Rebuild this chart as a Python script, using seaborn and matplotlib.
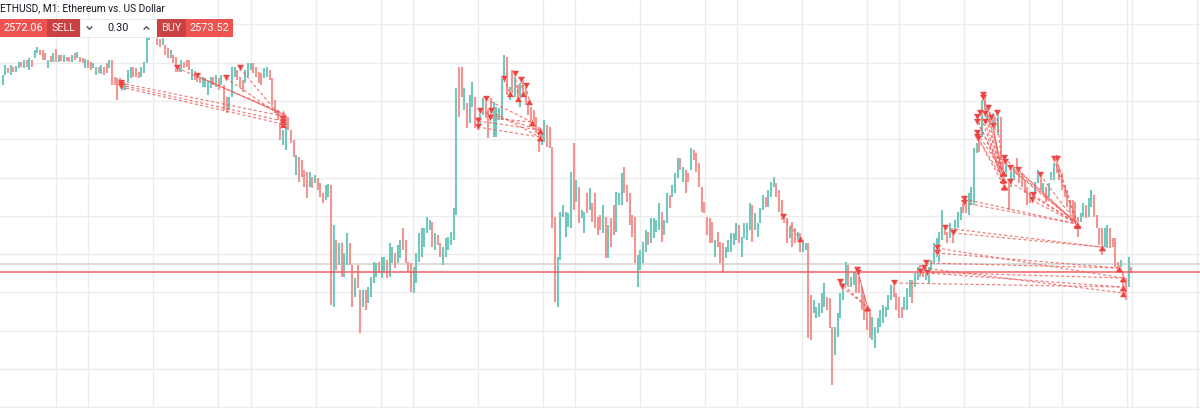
import numpy as np
import pandas as pd
import matplotlib
matplotlib.use("Agg")
import matplotlib.pyplot as plt
import seaborn as sns
from matplotlib.patches import Rectangle

# ---------------- data ----------------
# bar highs / lows (USD) and direction (u = close above open, d = close below open)
bar_high = [
    # A
    2592.5, 2593.5, 2593.2, 2593.5, 2593.3, 2593.4, 2593.8, 2593.8, 2594.0, 2594.0, 2594.2, 2594.0,
    2595.0, 2595.3, 2595.0, 2595.0, 2594.7,
    # B
    2594.0, 2594.4, 2594.7, 2595.1, 2594.5, 2594.5, 2594.5, 2594.3, 2594.3, 2594.5, 2594.7, 2594.8,
    2594.3, 2594.2, 2594.1, 2594.0, 2593.8, 2593.7, 2593.3, 2593.3, 2593.5, 2593.3, 2593.7, 2594.0,
    2594.0, 2592.3, 2592.2, 2592.2, 2591.5, 2591.7, 2593.0, 2593.3, 2593.3, 2593.2, 2592.8, 2593.3,
    2593.8, 2596.5, 2597.0, 2597.5, 2597.3,
    # C
    2596.5, 2596.1, 2596.2, 2595.5, 2595.2, 2595.0, 2594.5, 2594.3, 2593.5, 2594.0, 2593.8, 2594.0,
    2594.0, 2593.1, 2592.9, 2592.7, 2592.3, 2592.3, 2592.2, 2591.8, 2592.3, 2592.3, 2592.5, 2592.2,
    2592.5, 2591.5, 2590.3, 2590.3, 2593.3, 2593.3, 2593.0, 2592.3, 2592.0, 2593.0, 2593.7, 2593.7,
    2593.7, 2593.3, 2592.8, 2592.7, 2593.2, 2593.3, 2593.0, 2592.2, 2590.0, 2589.0, 2587.7, 2587.0,
    2587.7, 2588.3, 2587.0, 2586.0, 2584.5, 2584.3, 2584.0, 2583.0, 2582.8, 2582.8, 2582.3, 2582.5,
    2582.2, 2581.7, 2580.7, 2581.5, 2581.6,
    # D
    2581.5, 2577.5, 2576.0, 2575.7, 2575.7, 2574.7, 2576.7, 2575.7, 2573.5, 2572.2, 2573.5, 2571.0,
    2571.0, 2571.0, 2571.3, 2572.3, 2573.8, 2573.7, 2573.8, 2574.3, 2574.3, 2574.0, 2575.7, 2575.3,
    2574.7, 2575.5,
    # E
    2576.0, 2577.2, 2576.0, 2573.8, 2573.7, 2573.3, 2574.7, 2576.7, 2577.2, 2577.2, 2578.3, 2578.0,
    2577.8, 2576.7, 2576.5, 2575.7, 2575.3, 2576.2, 2576.3, 2576.8, 2579.2, 2591.2,
    # F
    2593.3, 2593.3, 2591.2, 2589.7, 2590.5, 2591.8, 2590.3, 2588.3, 2589.2, 2590.2, 2590.0, 2589.0,
    2590.2, 2589.8, 2589.3, 2589.2, 2592.2, 2594.5, 2594.3, 2591.3, 2593.0, 2592.3, 2591.5, 2591.7,
    2592.0, 2591.5, 2589.8, 2589.3, 2589.0, 2588.3, 2587.3, 2587.0, 2588.0, 2587.5, 2587.3, 2585.3,
    2578.3,
    # G
    2574.3, 2578.8, 2579.5, 2578.8, 2578.7, 2582.8, 2585.7, 2582.0, 2581.3, 2579.0, 2578.8, 2580.7,
    2581.2, 2579.7, 2580.7, 2578.3, 2578.5, 2579.5, 2578.3, 2577.5, 2578.2, 2579.5, 2580.8, 2580.7,
    2582.7, 2583.3, 2581.5, 2580.7, 2578.5, 2578.3, 2574.5, 2575.0, 2575.8, 2577.0, 2576.8, 2578.2,
    2578.2, 2578.0, 2579.7, 2578.8, 2578.0, 2580.7, 2580.5, 2581.5, 2582.7, 2584.2, 2584.2, 2583.3,
    2583.0, 2582.7, 2585.2, 2585.0, 2584.7, 2583.7, 2581.3, 2579.8, 2578.3, 2578.2, 2577.8, 2576.0,
    2576.8, 2575.8, 2575.7, 2575.3, 2576.0, 2576.7, 2576.7, 2577.7, 2577.5, 2576.3, 2577.7, 2577.7,
    2579.7, 2579.5, 2578.7, 2577.7, 2579.2, 2580.5, 2580.3, 2581.0, 2581.8, 2582.3, 2581.7, 2581.0,
    2580.0, 2578.5, 2578.2, 2577.3, 2577.8, 2577.2, 2576.8, 2576.7,
    # H
    2576.0, 2575.7, 2575.7, 2570.5, 2570.0, 2569.3, 2569.7, 2570.7, 2571.7, 2570.3, 2570.2, 2567.3,
    2567.3, 2568.7, 2570.7, 2571.7, 2573.8, 2573.5, 2572.3, 2572.8, 2572.8, 2572.3, 2571.3, 2570.5,
    2569.0, 2568.8, 2568.3, 2567.3, 2568.2, 2569.0, 2569.5, 2569.3, 2570.5, 2571.5, 2571.8, 2570.7,
    2570.3, 2569.3, 2570.3, 2571.2, 2572.0, 2572.0, 2572.7, 2573.3, 2573.5, 2573.3, 2573.8, 2573.3,
    2574.0, 2575.7, 2576.2, 2576.8, 2579.0, 2577.3, 2576.8, 2577.7, 2576.8, 2578.0, 2578.8, 2579.3,
    2579.7, 2579.8, 2580.7, 2581.3, 2585.2, 2585.7, 2586.5, 2590.0, 2590.5, 2589.3, 2588.8, 2588.7,
    2588.3, 2588.7, 2588.3, 2584.0, 2583.7, 2582.0, 2583.0, 2583.3, 2584.2, 2583.0, 2582.7, 2582.0,
    2581.3, 2580.8, 2580.7, 2581.8, 2583.0, 2582.3, 2581.7, 2581.3, 2581.7, 2582.8, 2583.7, 2584.5,
    2583.3, 2582.7, 2581.5, 2581.0, 2580.0, 2580.0, 2579.8, 2578.3, 2578.7, 2579.7, 2579.5, 2580.2,
    2581.0, 2580.5, 2578.5, 2577.2, 2577.2, 2577.2, 2577.5, 2577.2, 2576.2, 2576.2, 2573.8, 2574.0,
    2572.8, 2572.2, 2574.3, 2573.3,
]
bar_low = [
    # A
    2591.5, 2592.5, 2592.7, 2592.5, 2592.8, 2592.8, 2593.2, 2593.3, 2593.2, 2593.3, 2593.0, 2593.3,
    2594.2, 2594.7, 2594.5, 2594.0, 2594.0,
    # B
    2593.2, 2593.8, 2593.8, 2593.8, 2593.8, 2593.9, 2593.8, 2593.9, 2593.8, 2593.8, 2594.0, 2594.2,
    2593.8, 2593.7, 2593.2, 2593.2, 2593.0, 2593.2, 2592.5, 2592.7, 2592.6, 2592.5, 2592.7, 2593.2,
    2591.5, 2591.5, 2590.0, 2591.5, 2591.0, 2591.0, 2591.7, 2592.2, 2592.3, 2592.3, 2592.2, 2592.3,
    2592.7, 2593.7, 2596.0, 2596.5, 2596.4,
    # C
    2595.5, 2595.3, 2595.5, 2594.5, 2594.2, 2594.2, 2593.7, 2592.8, 2592.8, 2592.8, 2593.2, 2593.3,
    2593.0, 2592.0, 2592.0, 2591.8, 2591.7, 2591.3, 2591.3, 2590.5, 2591.2, 2591.5, 2591.3, 2591.0,
    2591.5, 2589.0, 2588.7, 2589.0, 2590.3, 2592.3, 2592.0, 2591.3, 2590.8, 2591.7, 2592.3, 2593.0,
    2592.7, 2592.3, 2591.7, 2591.5, 2592.2, 2592.3, 2592.0, 2589.5, 2588.7, 2588.0, 2586.0, 2585.5,
    2585.0, 2587.0, 2585.7, 2584.3, 2582.5, 2581.8, 2582.3, 2581.3, 2580.2, 2581.3, 2581.2, 2581.7,
    2581.0, 2580.3, 2579.7, 2580.0, 2580.3,
    # D
    2569.5, 2569.3, 2573.0, 2573.5, 2572.3, 2572.3, 2573.5, 2573.5, 2569.3, 2570.3, 2571.2, 2566.7,
    2569.3, 2569.0, 2569.7, 2570.3, 2571.7, 2572.3, 2572.7, 2572.2, 2572.7, 2572.2, 2572.3, 2573.7,
    2573.2, 2573.7,
    # E
    2574.2, 2575.0, 2573.7, 2572.8, 2570.8, 2570.7, 2571.7, 2573.8, 2574.3, 2575.3, 2576.7, 2577.0,
    2575.3, 2575.0, 2575.5, 2574.3, 2573.5, 2574.3, 2575.0, 2575.5, 2576.0, 2578.5,
    # F
    2588.3, 2590.3, 2589.0, 2587.2, 2587.7, 2589.3, 2587.2, 2587.0, 2587.5, 2588.5, 2588.2, 2586.2,
    2588.3, 2586.3, 2586.3, 2588.0, 2588.0, 2592.0, 2590.5, 2590.0, 2590.7, 2590.3, 2590.2, 2589.3,
    2590.3, 2589.5, 2588.5, 2587.7, 2587.3, 2586.7, 2584.8, 2585.5, 2585.8, 2585.3, 2585.2, 2577.2,
    2569.8,
    # G
    2569.3, 2574.0, 2578.3, 2576.3, 2577.3, 2577.2, 2579.0, 2579.8, 2577.7, 2578.2, 2576.7, 2578.7,
    2579.0, 2577.8, 2577.2, 2576.5, 2577.0, 2576.7, 2574.2, 2574.2, 2575.3, 2576.5, 2576.8, 2579.5,
    2579.5, 2580.7, 2579.8, 2577.5, 2576.3, 2573.7, 2571.3, 2573.0, 2573.7, 2574.8, 2575.5, 2575.7,
    2576.2, 2576.8, 2577.0, 2575.8, 2576.5, 2577.7, 2579.2, 2580.3, 2580.7, 2582.2, 2583.0, 2581.8,
    2580.7, 2581.8, 2583.0, 2584.0, 2582.8, 2581.3, 2578.8, 2578.7, 2576.5, 2575.7, 2575.7, 2574.3,
    2575.3, 2573.7, 2572.7, 2574.2, 2574.8, 2574.8, 2575.5, 2576.0, 2575.7, 2574.3, 2576.2, 2576.0,
    2577.0, 2575.8, 2577.0, 2576.3, 2577.7, 2579.0, 2579.3, 2579.3, 2580.3, 2581.3, 2580.3, 2578.8,
    2578.0, 2577.7, 2575.7, 2576.2, 2575.3, 2575.7, 2576.0, 2574.8,
    # H
    2574.8, 2575.0, 2566.2, 2566.0, 2568.7, 2568.2, 2568.3, 2568.7, 2569.3, 2569.0, 2567.2, 2561.5,
    2564.5, 2566.3, 2568.2, 2570.0, 2571.5, 2571.3, 2571.3, 2571.5, 2570.7, 2570.7, 2569.0, 2568.0,
    2567.0, 2566.2, 2566.0, 2565.2, 2566.7, 2567.3, 2567.7, 2568.3, 2569.0, 2570.0, 2570.3, 2569.0,
    2568.2, 2568.2, 2569.0, 2569.0, 2570.3, 2569.7, 2571.3, 2572.0, 2572.3, 2572.3, 2572.0, 2571.7,
    2573.0, 2573.7, 2574.3, 2573.8, 2576.0, 2576.5, 2575.7, 2576.2, 2575.7, 2576.7, 2577.2, 2578.0,
    2578.7, 2578.7, 2578.5, 2579.5, 2579.5, 2584.7, 2584.8, 2586.3, 2589.0, 2587.7, 2587.5, 2587.3,
    2587.0, 2586.5, 2584.0, 2582.0, 2582.3, 2579.0, 2581.3, 2582.0, 2582.5, 2581.7, 2581.3, 2580.7,
    2579.5, 2579.7, 2580.0, 2580.5, 2581.7, 2581.0, 2580.7, 2579.8, 2580.3, 2582.0, 2582.0, 2582.7,
    2582.0, 2581.0, 2580.3, 2579.3, 2578.7, 2578.0, 2577.8, 2576.3, 2577.8, 2578.3, 2578.2, 2578.3,
    2579.3, 2578.3, 2577.2, 2575.5, 2574.5, 2575.3, 2575.2, 2575.2, 2575.3, 2573.3, 2572.8, 2573.3,
    2570.5, 2570.0, 2571.3, 2572.7,
]
bar_dir = (
    # A (17)
    "uudud" "uudud" "uduud" "dd"
    # B (41)
    "ududu" "duddu" "duddu" "dduud" "uddud" "ddduu" "uuddd" "uu" "uuud"
    # C (65)
    "ddudd" "udddu" "dddud" "dduuu" "ududu" "dduuu" "ddduu" "udddd" "uuddd" "dduud" "ddudd" "ddudu" "ddduu"
    # D (26)
    "dudud" "uuddu" "ddudu" "uuudu" "uduud" "u"
    # E (22)
    "udddd" "uuuuu" "uudud" "duuuu" "uu"
    # F (37)
    "ddudu" "udduu" "ddduu" "uuudu" "dudud" "ddddd" "duudd" "dd"
    # G (92)
    "uuuuu" "ududu" "ududd" "ddudu" "dduuu" "ddddd" "uuuud" "uuuud" "uuduu" "ududd" "udddd" "ddddu"
    "ddduu" "uuudu" "uuudu" "uuudu" "uuddd" "ddudd" "ud"
    # H (124)
    "uuddu" "uuuud" "dduuu" "uuduu" "ddddd" "duuuu" "uuuud" "ddduu" "uduud" "duuuu" "uuudd" "uduuu"
    "dduuu" "ududu" "dudud" "duduu" "ddddd" "duuud" "uduuu" "ddddd" "ddddu" "uduud" "ddduu" "ddddu" "ddud"
)

# trades: short entries (sell marks) and their exits (buy marks), x in bar numbers
trade_entry_x = [44.2, 44.2, 44.2, 65.4, 72.7, 83.7, 88.9,
                 181.0, 179.0, 182.9, 178.3, 182.6, 178.0,
                 188.0, 192.0, 194.1, 196.1,
                 292.4,
                 313.8, 314.6, 320.3, 320.7,
                 334.2, 343.8, 345.3, 346.1, 346.3, 350.1, 350.1, 353.1, 356.3, 360.3, 360.3,
                 367.5, 367.5, 369.4, 366.3, 368.2, 372.5, 365.1, 370.5, 365.3, 368.2, 371.3, 365.3, 365.3, 365.7,
                 375.3, 375.7, 377.5, 380.7, 388.8, 394.0, 395.0, 377.5, 385.7, 386.3]
trade_entry_p = [2591.7, 2591.5, 2591.3, 2593.2, 2592.4, 2592.2, 2593.2,
                 2590.1, 2588.9, 2588.9, 2587.9, 2588.2, 2587.3,
                 2592.1, 2592.6, 2592.0, 2591.4,
                 2578.3,
                 2571.8, 2571.3, 2573.0, 2572.7,
                 2571.7, 2572.8, 2573.2, 2573.7, 2572.7, 2574.7, 2575.2, 2577.2, 2576.7, 2580.1, 2579.7,
                 2590.5, 2590.2, 2589.2, 2588.7, 2588.6, 2588.7, 2588.3, 2588.2, 2587.8, 2587.8, 2587.4, 2586.7, 2586.3, 2586.1,
                 2584.2, 2583.8, 2583.2, 2583.0, 2582.5, 2584.1, 2584.1, 2581.8, 2580.0, 2580.5]
trade_exit_x = [104.9, 104.9, 104.9, 104.9, 104.9, 104.9, 104.9,
                198.3, 201.2, 201.2, 201.2, 198.3, 201.2,
                190.1, 193.3, 195.1, 197.4,
                298.8,
                324.1, 324.1, 324.1, 324.1,
                420.0, 420.0, 420.0, 418.4, 420.0, 418.4, 420.0, 411.9, 411.9, 402.8, 402.8,
                374.8, 374.8, 374.8, 375.3, 374.8, 374.8, 374.8, 375.3, 374.8, 375.3, 374.8, 374.8, 374.8, 375.3,
                402.8, 402.8, 402.8, 402.8, 402.8, 402.8, 402.8, 402.8, 402.8, 402.8]
trade_exit_p = [2588.4, 2587.9, 2587.6, 2588.7, 2588.6, 2588.3, 2588.1,
                2587.8, 2587.0, 2586.3, 2587.0, 2587.8, 2586.3,
                2590.7, 2590.2, 2590.7, 2589.9,
                2576.2,
                2569.3, 2569.3, 2569.3, 2569.3,
                2571.3, 2572.2, 2570.7, 2573.2, 2571.3, 2573.2, 2572.2, 2575.3, 2575.3, 2577.6, 2577.6,
                2582.8, 2582.1, 2582.8, 2581.4, 2582.1, 2582.8, 2582.1, 2581.4, 2582.8, 2581.4, 2582.1, 2582.8, 2582.1, 2581.4,
                2577.6, 2577.6, 2577.6, 2577.6, 2577.6, 2577.6, 2577.6, 2577.6, 2577.6, 2577.6]
trade_solid = [4]

grid_x = [20.0, 32.1, 56.4, 80.8, 93.0, 117.3, 141.7, 153.7, 178.0, 202.4, 214.5, 238.9,
          263.2, 275.3, 299.7, 324.1, 336.1, 360.4, 384.8, 396.9, 421.3, 423.3, 447.6]
grid_p = [2597.56, 2593.73, 2589.90, 2586.07, 2582.24, 2578.41, 2574.58, 2570.75,
          2566.92, 2563.09, 2559.26]
bid_line = 2572.75
ask_line = 2573.55

title = "ETHUSD, M1: Ethereum vs. US Dollar"
sell_price = "2572.06"
buy_price = "2573.52"
lot_size = "0.30"

# ---------------- build frame ----------------
n = len(bar_high)
assert n == len(bar_low) == len(bar_dir), (n, len(bar_low), len(bar_dir))
bars = pd.DataFrame({"i": np.arange(n), "high": bar_high, "low": bar_low, "dir": list(bar_dir)})

UP, DOWN = "#72c8bd", "#f39592"
RED, DARKRED = "#ef5350", "#c94141"
MARK = "#ec4442"

sns.set_theme(style="white")
plt.rcParams['font.family'] = ['Roboto', 'DejaVu Sans']

fig = plt.figure(figsize=(12, 4.08), dpi=100)
ax = fig.add_axes([0, 0, 1, 1])
ax.set_xlim(-1.012, 448.76)
ax.set_ylim(2559.2, 2600.0)
for s in ax.spines.values():
    s.set_visible(False)
ax.set_xticks(grid_x)
ax.set_yticks(grid_p)
ax.tick_params(length=0, labelbottom=False, labelleft=False)
ax.grid(True, color="#ececec", lw=1.0)
ax.set_axisbelow(True)

ax.axhline(ask_line, color="#dcdcdc", lw=1.4, zorder=1)
ax.axhline(bid_line, color="#f06262", lw=1.1, zorder=4)

cols = np.where(bars["dir"] == "u", UP, DOWN)
ax.vlines(bars["i"], bars["low"], bars["high"], colors=cols, lw=1.5, zorder=2)

# trade connections
for k in range(len(trade_entry_x)):
    ls = "-" if k in trade_solid else (0, (2.6, 2.0))
    ax.plot([trade_entry_x[k], trade_exit_x[k]], [trade_entry_p[k], trade_exit_p[k]],
            color="#f05a57", lw=0.85, ls=ls, alpha=0.8, zorder=3)

entries = pd.DataFrame({"x": trade_entry_x, "p": trade_entry_p})
exits = pd.DataFrame({"x": trade_exit_x, "p": trade_exit_p})
sns.scatterplot(data=entries, x="x", y="p", marker="v", s=20, color=MARK,
                edgecolor="#fbd3d2", linewidth=0.4, ax=ax, zorder=5)
sns.scatterplot(x=entries["x"], y=entries["p"] + 0.33, marker="_", s=20, color=MARK,
                linewidth=1.0, ax=ax, zorder=5)
sns.scatterplot(data=exits, x="x", y="p", marker="^", s=20, color=MARK,
                edgecolor="#fbd3d2", linewidth=0.4, ax=ax, zorder=5)
sns.scatterplot(x=exits["x"], y=exits["p"] - 0.33, marker="_", s=20, color=MARK,
                linewidth=1.0, ax=ax, zorder=5)
ax.set_xlabel("")
ax.set_ylabel("")

# ---------------- header / trade widget ----------------
H = 408.0
W = 1200.0
def fx(px):
    return px / W
def fy(py):
    return 1 - py / H

ax.text(fx(0), fy(8.5), title, transform=ax.transAxes, fontsize=7.3, color="#131722",
        va="center", ha="left", zorder=10)

top, bot = 19.3, 36.7
def box(x0, x1, color, ec="none"):
    r = Rectangle((fx(x0), fy(bot)), fx(x1) - fx(x0), fy(top) - fy(bot), transform=ax.transAxes,
                  facecolor=color, edgecolor=ec, lw=0.6, zorder=10)
    ax.add_patch(r)

box(0, 47, RED)
box(47, 80, DARKRED)
box(80, 157, "white", ec="#e6e6e6")
box(157, 186, DARKRED)
box(186, 233, RED)
ym = fy((top + bot) / 2 + 0.3)
fs = 7.8
ax.text(fx(23.5), ym, sell_price, transform=ax.transAxes, color="white", fontsize=fs,
        ha="center", va="center", zorder=11)
ax.text(fx(63.5), ym, "SELL", transform=ax.transAxes, color="#fde7e7", fontsize=fs,
        ha="center", va="center", zorder=11)
ax.text(fx(118.5), ym, lot_size, transform=ax.transAxes, color="#131722", fontsize=fs,
        ha="center", va="center", zorder=11)
ax.text(fx(171.5), ym, "BUY", transform=ax.transAxes, color="#fde7e7", fontsize=fs,
        ha="center", va="center", zorder=11)
ax.text(fx(209.5), ym, buy_price, transform=ax.transAxes, color="white", fontsize=fs,
        ha="center", va="center", zorder=11)
# chevrons (down on the left, up on the right)
cy = (top + bot) / 2
ax.plot([fx(87.0), fx(89.5), fx(92.0)], [fy(cy - 1.3), fy(cy + 1.3), fy(cy - 1.3)],
        transform=ax.transAxes, color="#444444", lw=0.9, zorder=11, solid_capstyle="round")
ax.plot([fx(144.0), fx(146.5), fx(149.0)], [fy(cy + 1.3), fy(cy - 1.3), fy(cy + 1.3)],
        transform=ax.transAxes, color="#444444", lw=0.9, zorder=11, solid_capstyle="round")

fig.savefig("out.png", dpi=100, facecolor="white")
